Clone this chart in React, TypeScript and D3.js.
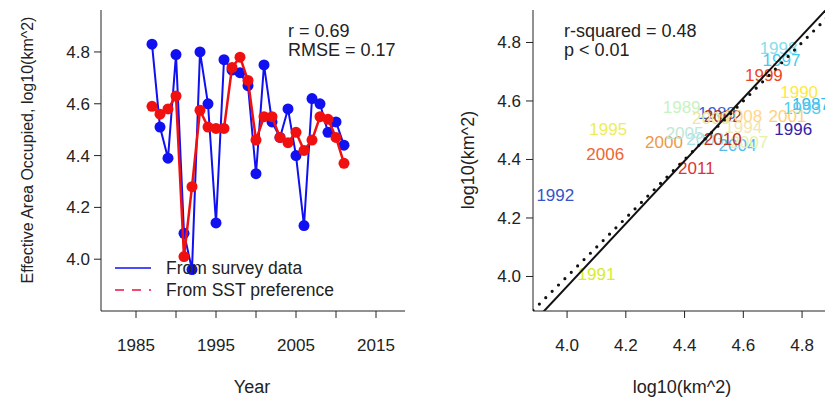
import React from 'react';
import * as d3 from 'd3';

// survey years
const years = [1987, 1988, 1989, 1990, 1991, 1992, 1993, 1994, 1995, 1996, 1997, 1998, 1999,
  2000, 2001, 2002, 2003, 2004, 2005, 2006, 2007, 2008, 2009, 2010, 2011];

// effective area occupied, log10(km^2)
const surveyValues = [4.83, 4.51, 4.39, 4.79, 4.10, 3.96, 4.80, 4.60, 4.14, 4.77, 4.73, 4.72, 4.67,
  4.33, 4.75, 4.53, 4.47, 4.58, 4.40, 4.13, 4.62, 4.60, 4.49, 4.53, 4.44];
const sstValues = [4.59, 4.56, 4.58, 4.63, 4.01, 4.28, 4.575, 4.51, 4.505, 4.505, 4.74, 4.78, 4.69,
  4.46, 4.55, 4.55, 4.47, 4.45, 4.49, 4.42, 4.46, 4.55, 4.54, 4.47, 4.37];

// label colour per year in the scatter
const yearColors = ['#33bbee', '#3366dd', '#c8f2c0', '#ffe844', '#d8ec30', '#3355cc', '#55ccee',
  '#f2e6b0', '#eeee55', '#3322aa', '#44ccee', '#88ddee', '#ee4422', '#ee9944', '#ffd27a',
  '#aa3322', '#a8e0f0', '#55bbee', '#c0e8d8', '#ee6633', '#e8f0a8', '#ffd68c', '#f0e6a0',
  '#bb3322', '#dd3333'];

const yearTicks = [1985, 1990, 1995, 2000, 2005, 2010, 2015];
const yearTickLabels = ['1985', '', '1995', '', '2005', '', '2015'];
const valueTicks = [4.0, 4.2, 4.4, 4.6, 4.8];

const statsLeft = ['r = 0.69', 'RMSE = 0.17'];
const statsRight = ['r-squared = 0.48', 'p < 0.01'];
const legendItems = ['From survey data', 'From SST preference'];
// fitted line in the scatter: y = a + b x
const fitLine = [-0.326, 1.073];

const font = '"Liberation Sans", Arial, sans-serif';
const ink = '#222';

export default function App() {
  // left panel: time series
  const xL = d3.scaleLinear().domain([1980.625, 2018.625]).range([101, 405]);
  const yL = d3.scaleLinear().domain([3.8, 4.962]).range([311, 10]);
  // right panel: scatter
  const xR = d3.scaleLinear().domain([3.884, 4.9155]).range([533, 836]);
  const yR = d3.scaleLinear().domain([3.882, 4.911]).range([311, 10]);

  const lineL = (vals: number[]) =>
    d3.line<number>().x((_, i) => xL(years[i])).y(v => yL(v))(vals) || '';

  const [a, b] = fitLine;
  const xs = xR.domain();

  return (
    <div style={{ position: 'fixed', left: 0, top: 0 }}>
      <svg width={825} height={399} style={{ display: 'block', background: '#fff' }} fontFamily={font}>
        <defs>
          <clipPath id="clipR">
            <rect x={533} y={10} width={303} height={301} />
          </clipPath>
        </defs>

        {/* ---------- left panel ---------- */}
        <g>
          <path d={lineL(surveyValues)} fill="none" stroke="#1010f0" strokeWidth={2} />
          {surveyValues.map((v, i) => (
            <circle key={'b' + i} cx={xL(years[i])} cy={yL(v)} r={5.5} fill="#1010f0" />
          ))}
          <path d={lineL(sstValues)} fill="none" stroke="#f01010" strokeWidth={2.5} />
          {sstValues.map((v, i) => (
            <circle key={'r' + i} cx={xL(years[i])} cy={yL(v)} r={5.5} fill="#f01010" />
          ))}

          {/* axes, bty = "l" */}
          <line x1={101} x2={101} y1={10} y2={311} stroke={ink} />
          <line x1={101} x2={405} y1={311} y2={311} stroke={ink} />
          {valueTicks.map(t => (
            <g key={t}>
              <line x1={94} x2={101} y1={yL(t)} y2={yL(t)} stroke={ink} />
              <text x={90} y={yL(t)} dy="0.35em" textAnchor="end" fontSize={17} fill={ink}>
                {t.toFixed(1)}
              </text>
            </g>
          ))}
          {yearTicks.map((t, i) => (
            <g key={t}>
              <line x1={xL(t)} x2={xL(t)} y1={311} y2={318} stroke={ink} />
              <text x={xL(t)} y={351} textAnchor="middle" fontSize={17} fill={ink}>
                {yearTickLabels[i]}
              </text>
            </g>
          ))}
          <text x={252} y={393} textAnchor="middle" fontSize={18} fill={ink}>Year</text>
          <text transform="translate(33,150) rotate(-90)" textAnchor="middle" fontSize={16} fill={ink}>
            Effective Area Occupied, log10(km^2)
          </text>

          {statsLeft.map((s, i) => (
            <text key={s} x={288} y={37 + i * 19} fontSize={18} fill={ink}>{s}</text>
          ))}

          {/* legend */}
          <line x1={115} x2={151} y1={268} y2={268} stroke="#1010f0" strokeWidth={1.5} />
          <line x1={115} x2={151} y1={290} y2={290} stroke="#f01040" strokeWidth={1.5}
            strokeDasharray="9,8" />
          {legendItems.map((s, i) => (
            <text key={s} x={166} y={274 + i * 22} fontSize={17.5} fill={ink}>{s}</text>
          ))}
        </g>

        {/* ---------- right panel ---------- */}
        <g>
          {years.map((yr, i) => (
            <text key={yr} x={xR(surveyValues[i])} y={yR(sstValues[i])} dy="0.35em"
              textAnchor="middle" fontSize={17} fill={yearColors[i]}>
              {yr}
            </text>
          ))}

          <g clipPath="url(#clipR)">
            <line x1={xR(xs[0])} y1={yR(xs[0])} x2={xR(xs[1])} y2={yR(xs[1])}
              stroke="#111" strokeWidth={3.2} strokeDasharray="0,9" strokeLinecap="round" />
            <line x1={xR(xs[0])} y1={yR(a + b * xs[0])} x2={xR(xs[1])} y2={yR(a + b * xs[1])}
              stroke="#111" strokeWidth={2} />
          </g>

          <line x1={533} x2={533} y1={10} y2={311} stroke={ink} />
          <line x1={533} x2={836} y1={311} y2={311} stroke={ink} />
          {valueTicks.map(t => (
            <g key={'y' + t}>
              <line x1={526} x2={533} y1={yR(t)} y2={yR(t)} stroke={ink} />
              <text x={521} y={yR(t)} dy="0.35em" textAnchor="end" fontSize={17} fill={ink}>
                {t.toFixed(1)}
              </text>
            </g>
          ))}
          {valueTicks.map(t => (
            <g key={'x' + t}>
              <line x1={xR(t)} x2={xR(t)} y1={311} y2={318} stroke={ink} />
              <text x={xR(t)} y={351} textAnchor="middle" fontSize={17} fill={ink}>
                {t.toFixed(1)}
              </text>
            </g>
          ))}
          <text x={682} y={393} textAnchor="middle" fontSize={18} fill={ink}>log10(km^2)</text>
          <text transform="translate(474,160) rotate(-90)" textAnchor="middle" fontSize={18} fill={ink}>
            log10(km^2)
          </text>

          {statsRight.map((s, i) => (
            <text key={s} x={564} y={37 + i * 19} fontSize={18} fill={ink}>{s}</text>
          ))}
        </g>
      </svg>
    </div>
  );
}
